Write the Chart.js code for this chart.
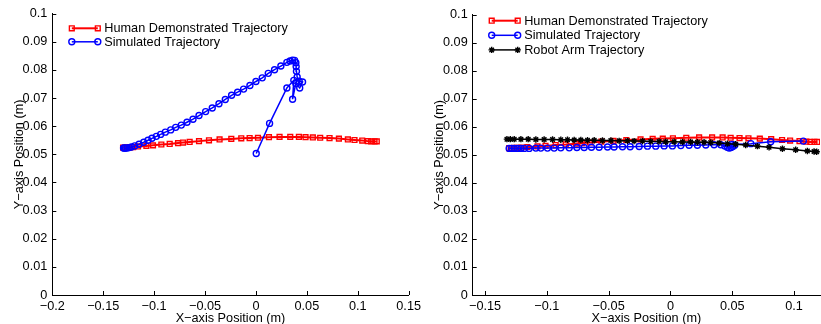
<!DOCTYPE html>
<html lang="en">
<head>
    <script src="https://cdn.jsdelivr.net/npm/chart.js"></script>
    <meta charset="UTF-8">
    <title>Trajectories</title>
    <style>
        body {
            margin: 0;
            background: #fff;
        }
        #wrap {
            position: relative;
            width: 821px;
            height: 324px;
            overflow: hidden;
        }
        canvas {
            position: absolute;
            top: 0;
        }
        #leftPlot { left: 0; }
        #rightPlot { left: 420px; }
    </style>
</head>
<body>
<div id="wrap">
    <canvas id="leftPlot" width="425" height="324"></canvas>
    <canvas id="rightPlot" width="401" height="324"></canvas>
</div>

<script>
    // human demonstrated trajectory (same in both plots)
    const humanX = [-0.1305, -0.1285, -0.1265, -0.1240, -0.1207, -0.1158, -0.1076, -0.1011, -0.0929, -0.0847,
        -0.0765, -0.0716, -0.0651, -0.0559, -0.0461, -0.0357, -0.0242, -0.0144, -0.0062, 0.0020,
        0.0128, 0.0232, 0.0337, 0.0422, 0.0487, 0.0559, 0.0631, 0.0723, 0.0815, 0.0903,
        0.0968, 0.1044, 0.1099, 0.1132, 0.1165, 0.1187];
    const humanY = [0.0524, 0.0524, 0.0525, 0.0525, 0.0526, 0.0528, 0.0530, 0.0532, 0.0535, 0.0537,
        0.0540, 0.0542, 0.0544, 0.0547, 0.0550, 0.0553, 0.0555, 0.0557, 0.0558, 0.0559,
        0.0561, 0.0562, 0.0562, 0.0562, 0.0561, 0.0560, 0.0559, 0.0558, 0.0556, 0.0553,
        0.0551, 0.0549, 0.0547, 0.0546, 0.0546, 0.0546];

    // simulated trajectory, left plot
    const simLeftX = [0.0003, 0.0134, 0.0304, 0.0372, 0.0360, 0.0392, 0.0430, 0.0458, 0.0425, 0.0405,
        0.0398, 0.0395, 0.0392, 0.0380, 0.0360, 0.0335, 0.0304, 0.0245, 0.0183, 0.0121,
        0.0062, 0.0000, -0.0059, -0.0121, -0.0180, -0.0239, -0.0301, -0.0363, -0.0429, -0.0494,
        -0.0559, -0.0618, -0.0677, -0.0733, -0.0788, -0.0837, -0.0890, -0.0936, -0.0978, -0.1021,
        -0.1060, -0.1102, -0.1148, -0.1191, -0.1223, -0.1245, -0.1265, -0.1280, -0.1292, -0.1300];
    const simLeftY = [0.0503, 0.0610, 0.0736, 0.0763, 0.0696, 0.0752, 0.0736, 0.0757, 0.0760, 0.0775,
        0.0795, 0.0812, 0.0826, 0.0834, 0.0835, 0.0832, 0.0827, 0.0814, 0.0801, 0.0788,
        0.0772, 0.0759, 0.0745, 0.0732, 0.0721, 0.0710, 0.0695, 0.0680, 0.0665, 0.0652,
        0.0638, 0.0625, 0.0614, 0.0604, 0.0596, 0.0587, 0.0579, 0.0571, 0.0564, 0.0557,
        0.0550, 0.0543, 0.0536, 0.0530, 0.0526, 0.0524, 0.0523, 0.0522, 0.0522, 0.0523];

    // simulated trajectory, right plot
    const simRightX = [-0.1305, -0.1286, -0.1264, -0.1237, -0.1210, -0.1183, -0.1143, -0.1089, -0.1049, -0.0995,
        -0.0941, -0.0887, -0.0819, -0.0757, -0.0698, -0.0639, -0.0577, -0.0509, -0.0456, -0.0388,
        -0.0326, -0.0253, -0.0186, -0.0119, -0.0051, 0.0016, 0.0084, 0.0151, 0.0218, 0.0286,
        0.0353, 0.0407, 0.0440, 0.0460, 0.0475, 0.0490, 0.0505, 0.0520, 0.0500, 0.0650,
        0.0811, 0.1075];
    const simRightY = [0.0523, 0.0523, 0.0523, 0.0523, 0.0523, 0.0523, 0.0523, 0.0524, 0.0524, 0.0524,
        0.0524, 0.0525, 0.0525, 0.0526, 0.0526, 0.0527, 0.0527, 0.0528, 0.0528, 0.0529,
        0.0529, 0.0530, 0.0531, 0.0531, 0.0532, 0.0532, 0.0533, 0.0534, 0.0534, 0.0535,
        0.0536, 0.0536, 0.0532, 0.0527, 0.0524, 0.0526, 0.0530, 0.0534, 0.0537, 0.0540,
        0.0547, 0.0549];

    // robot arm trajectory, right plot
    const robotX = [-0.1323, -0.1296, -0.1264, -0.1210, -0.1151, -0.1089, -0.1022, -0.0954, -0.0887, -0.0833,
        -0.0779, -0.0725, -0.0671, -0.0617, -0.0550, -0.0482, -0.0415, -0.0348, -0.0294, -0.0226,
        -0.0159, -0.0092, -0.0038, 0.0030, 0.0097, 0.0164, 0.0218, 0.0272, 0.0326, 0.0394,
        0.0461, 0.0528, 0.0609, 0.0704, 0.0798, 0.0906, 0.1013, 0.1108, 0.1162, 0.1183];
    const robotY = [0.0556, 0.0556, 0.0556, 0.0556, 0.0556, 0.0555, 0.0555, 0.0555, 0.0554, 0.0554,
        0.0553, 0.0553, 0.0552, 0.0552, 0.0551, 0.0551, 0.0550, 0.0550, 0.0549, 0.0549,
        0.0548, 0.0548, 0.0547, 0.0547, 0.0546, 0.0546, 0.0545, 0.0545, 0.0544, 0.0542,
        0.0540, 0.0538, 0.0535, 0.0531, 0.0527, 0.0522, 0.0518, 0.0514, 0.0512, 0.0511];

    const xTicksLeft = [-0.2, -0.15, -0.1, -0.05, 0, 0.05, 0.1, 0.15];
    const xTicksRight = [-0.15, -0.1, -0.05, 0, 0.05, 0.1];
    const yTicks = [0, 0.01, 0.02, 0.03, 0.04, 0.05, 0.06, 0.07, 0.08, 0.09, 0.1];

    const seriesNames = ['Human Demonstrated Trajectory', 'Simulated Trajectory', 'Robot Arm Trajectory'];

    Chart.defaults.font.family = '"Liberation Sans", Arial, sans-serif';
    Chart.defaults.font.size = 12.7;
    Chart.defaults.color = '#000';

    function pts(xs, ys) {
        return xs.map((v, i) => ({ x: v, y: ys[i] }));
    }

    function fmt(v) {
        return String(+v.toFixed(2)).replace('-', '\u2212');
    }

    // matlab style ticks pointing into the plot
    const inwardTicks = {
        id: 'inwardTicks',
        afterDraw(chart) {
            const ctx = chart.ctx, a = chart.chartArea;
            const sx = chart.scales.x, sy = chart.scales.y;
            ctx.save();
            ctx.strokeStyle = '#000';
            ctx.lineWidth = 1;
            ctx.beginPath();
            sx.ticks.forEach((t, i) => {
                const p = Math.round(sx.getPixelForTick(i)) + 0.5;
                ctx.moveTo(p, a.bottom);
                ctx.lineTo(p, a.bottom - 4);
            });
            sy.ticks.forEach((t, i) => {
                const p = Math.round(sy.getPixelForTick(i)) + 0.5;
                ctx.moveTo(a.left, p);
                ctx.lineTo(a.left + 4, p);
            });
            ctx.stroke();
            ctx.restore();
        }
    };

    // legend: line sample with a marker at both ends
    const lineLegend = {
        id: 'lineLegend',
        afterDraw(chart, args, opts) {
            const ctx = chart.ctx;
            chart.data.datasets.forEach((ds, i) => {
                const y = opts.top + i * opts.gap;
                const x0 = chart.chartArea.left + opts.left;
                const x1 = x0 + 26;
                ctx.save();
                ctx.strokeStyle = ds.borderColor;
                ctx.lineWidth = ds.borderWidth;
                ctx.beginPath();
                ctx.moveTo(x0, y);
                ctx.lineTo(x1, y);
                ctx.stroke();
                ctx.fillStyle = 'rgba(0,0,0,0)';
                ctx.lineWidth = ds.pointBorderWidth;
                [x0, x1].forEach(px => {
                    Chart.helpers.drawPoint(ctx, {
                        pointStyle: ds.pointStyle, radius: ds.pointRadius,
                        borderWidth: ds.pointBorderWidth, rotation: 0
                    }, px, y);
                });
                ctx.fillStyle = '#000';
                ctx.font = '12.7px "Liberation Sans", Arial, sans-serif';
                ctx.textBaseline = 'middle';
                ctx.fillText(ds.label, x1 + 6.5, y + 0.5);
                ctx.restore();
            });
        }
    };

    function series(label, data, color, style, radius, lw, order) {
        return {
            label: label,
            data: data,
            showLine: true,
            borderColor: color,
            borderWidth: lw,
            pointStyle: style,
            pointRadius: radius,
            pointBorderColor: color,
            pointBackgroundColor: 'rgba(0,0,0,0)',
            pointBorderWidth: 1.4,
            tension: 0,
            order: order
        };
    }

    function makeChart(el, datasets, xMin, xMax, xTicks, pad, legendPos) {
        return new Chart(el, {
            type: 'scatter',
            data: { datasets: datasets },
            options: {
                responsive: false,
                animation: false,
                events: [],
                layout: { padding: pad, autoPadding: false },
                plugins: {
                    legend: { display: false },
                    tooltip: { enabled: false },
                    lineLegend: legendPos
                },
                scales: {
                    x: {
                        type: 'linear',
                        min: xMin,
                        max: xMax,
                        grid: { display: false, drawTicks: false },
                        border: { display: true, color: '#000', width: 1 },
                        afterBuildTicks: s => { s.ticks = xTicks.map(v => ({ value: v })); },
                        afterFit: s => { s.height = 29; },
                        ticks: { padding: 4, maxRotation: 0, autoSkip: false, callback: v => fmt(v) },
                        title: { display: true, text: 'X\u2212axis Position (m)', padding: { top: 0, bottom: -2 } }
                    },
                    y: {
                        type: 'linear',
                        min: 0,
                        max: 0.1,
                        grid: { display: false, drawTicks: false },
                        border: { display: true, color: '#000', width: 1 },
                        afterBuildTicks: s => { s.ticks = yTicks.map(v => ({ value: v })); },
                        afterFit: s => { s.width = pad.yw; },
                        ticks: { padding: 5, autoSkip: false, callback: v => fmt(v) },
                        title: { display: true, text: 'Y\u2212axis Position (m)', padding: { top: 12, bottom: 0 } }
                    }
                }
            },
            plugins: [inwardTicks, lineLegend]
        });
    }

    makeChart(document.getElementById('leftPlot'), [
        series(seriesNames[0], pts(humanX, humanY), '#ff0000', 'rect', 3.4, 2, 2),
        series(seriesNames[1], pts(simLeftX, simLeftY), '#0000ff', 'circle', 3, 1.5, 1)
    ], -0.2, 0.15, xTicksLeft, { left: 0, right: 16, top: 13.7, bottom: 0, yw: 52.3 },
        { top: 28.3, gap: 13.5, left: 19.5 });

    makeChart(document.getElementById('rightPlot'), [
        series(seriesNames[0], pts(humanX, humanY), '#ff0000', 'rect', 3.4, 2, 3),
        series(seriesNames[1], pts(simRightX, simRightY), '#0000ff', 'circle', 3, 1.5, 2),
        series(seriesNames[2], pts(robotX, robotY), '#000000', 'star', 3.2, 1.5, 1)
    ], -0.16, 0.121, xTicksRight, { left: 0, right: 1, top: 14.7, bottom: 0, yw: 52.7 },
        { top: 20.7, gap: 14.6, left: 19 });
</script>
</body>
</html>
